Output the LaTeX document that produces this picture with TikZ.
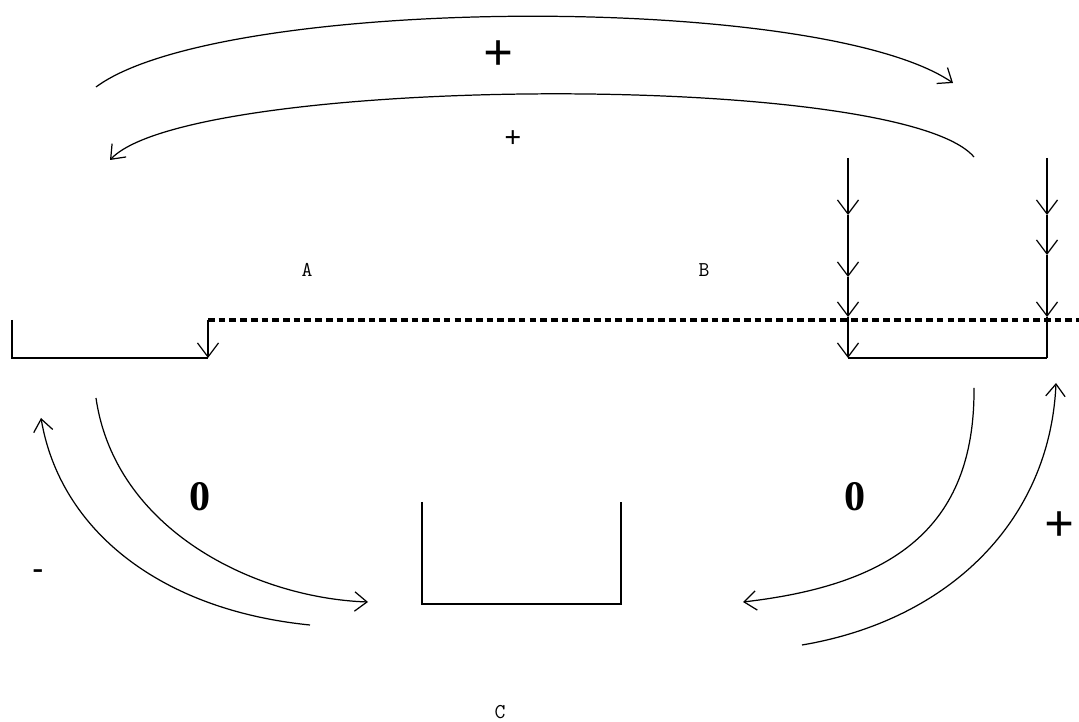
\documentclass[tikz,border=0pt]{standalone}
\usepackage{fontspec}
\setmainfont{Liberation Serif}
\usetikzlibrary{arrows.meta}

\tikzset{
  flow/.style={line width=0.7pt, -{Straight Barb[length=7pt, width=11pt, line width=0.7pt]}},
  drop/.style={line width=0.9pt, -{Straight Barb[length=8pt, width=12pt, line width=0.7pt]}},
  wall/.style={line width=1.1pt},
  level/.style={line width=1.9pt, dash pattern=on 3.8pt off 2.3pt},
  sign/.style={font=\bfseries\fontsize{30}{30}\selectfont},
  tag/.style={font=\ttfamily\fontsize{12}{12}\selectfont}
}

\begin{document}
\begin{tikzpicture}[x=0.02cm, y=-0.02cm]

    % 1. Frame of the picture (pixel coordinates, y downwards)
    \useasboundingbox (0,0) rectangle (1079,722);

    % 2. Corner points of the three containers
    \coordinate (A1) at (12,320);
    \coordinate (A2) at (12,358);
    \coordinate (A3) at (208,358);
    \coordinate (A4) at (208,320);
    \coordinate (B1) at (848,358);
    \coordinate (B2) at (1047,358);
    \coordinate (C1) at (422,502);
    \coordinate (C2) at (422,604);
    \coordinate (C3) at (621,604);
    \coordinate (C4) at (621,502);
    \coordinate (E) at (1079,320);

    % 3. Draw the containers and the dotted level
    \draw[wall] (A1) -- (A2) -- (A3);
    \draw[wall] (B1) -- (B2);
    \draw[wall] (C1) -- (C2) -- (C3) -- (C4);
    \draw[level] (A4) -- (E);
    \draw[drop] (A4) -- (A3);

    % 4. Falling arrows into container B
    \foreach \ya/\yb in {158/215, 215/277, 277/317, 317/358}
        \draw[drop] (848,\ya) -- (848,\yb);
    \foreach \ya/\yb in {158/215, 215/255, 255/317}
        \draw[drop] (1047,\ya) -- (1047,\yb);
    \draw[line width=0.9pt] (1047,317) -- (B2);

    % 5. The big arcs on top
    \draw[flow] (96,87) .. controls (220,-5) and (820,-8) .. (953,83);
    \draw[flow] (974,157) .. controls (900,70) and (190,75) .. (110,160);

    % 6. The arcs round container C
    \draw[flow] (96,398) .. controls (115,530) and (255,598) .. (368,602);
    \draw[flow] (310,625) .. controls (160,610) and (60,530) .. (41,418);
    \draw[flow] (974,388) .. controls (975,530) and (890,585) .. (743,602);
    \draw[flow] (802,645) .. controls (950,620) and (1050,520) .. (1056,383);

    % 7. Signs and names
    \node[sign] (s1) at (499,56) {+};
    \node[sign, font=\bfseries\fontsize{17}{17}\selectfont] (s2) at (513,139) {+};
    \node[sign, font=\bfseries\fontsize{24}{24}\selectfont] (s3) at (200,497) {0};
    \node[sign, font=\bfseries\fontsize{24}{24}\selectfont] (s4) at (855,497) {0};
    \node[sign] (s5) at (1060,527) {+};
    \node[sign, font=\bfseries\fontsize{18}{18}\selectfont] (s6) at (38,574) {-};
    \node[tag] (a) at (307,270) {A};
    \node[tag] (b) at (704,270) {B};
    \node[tag, inner sep=1pt] (c) at (500,712) {C};

\end{tikzpicture}
\end{document}
